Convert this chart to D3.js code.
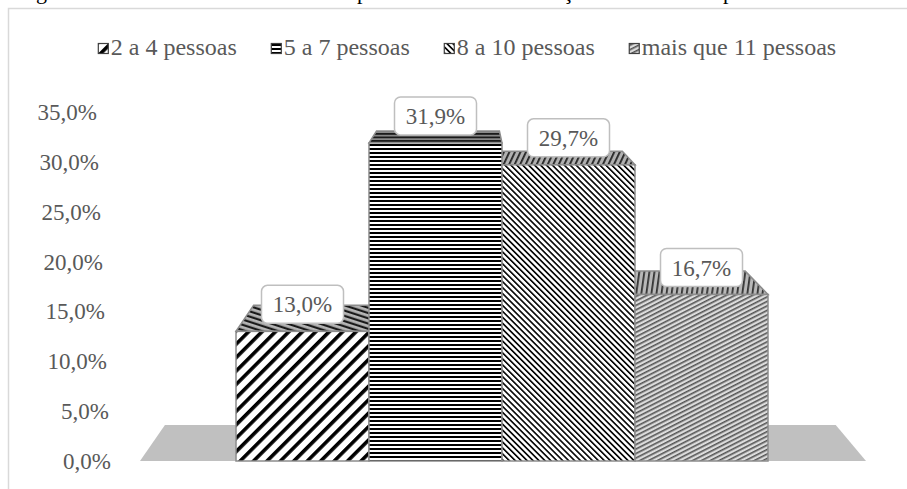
<!DOCTYPE html>
<html>
<head>
<meta charset="utf-8">
<script src="https://cdn.jsdelivr.net/npm/d3@7"></script>
<style>
  body { margin: 0; background: #fff; }
  text { font-family: "Liberation Serif", "Times New Roman", serif; }
</style>
</head>
<body>
<div id="chart"></div>
<script>
// data
let categories = ['2 a 4 pessoas', '5 a 7 pessoas', '8 a 10 pessoas', 'mais que 11 pessoas'];
let values = [13.0, 31.9, 29.7, 16.7];
let yTicks = [0, 5, 10, 15, 20, 25, 30, 35];
let labelText = ['13,0%', '31,9%', '29,7%', '16,7%'];

let width = 907, height = 489;
let serif = '"Liberation Serif", "Times New Roman", serif';

let svg = d3.select('#chart').append('svg')
    .attr('width', width)
    .attr('height', height);

let defs = svg.append('defs');

// hatch patterns, one for each series (front) and a darker one for the tops
function stripes(id, period, lineW, angle, lineColor, bg) {
    let p = defs.append('pattern')
        .attr('id', id)
        .attr('patternUnits', 'userSpaceOnUse')
        .attr('width', period)
        .attr('height', period)
        .attr('patternTransform', `rotate(${angle})`);
    p.append('rect').attr('width', period).attr('height', period).attr('fill', bg);
    p.append('rect').attr('width', lineW).attr('height', period).attr('fill', lineColor);
}
stripes('pat0', 9.5, 3.6, 45, '#000', '#fff');
stripes('pat1', 4, 2, 90, '#000', '#fff');
stripes('pat2', 4.2, 1.6, -45, '#000', '#fff');
stripes('pat3', 4, 1.6, 63, '#555', '#dcdcdc');

stripes('top0', 5, 2.2, -72, '#1a1a1a', '#b5b5b5');
stripes('top1', 3.5, 1.8, 90, '#1a1a1a', '#8a8a8a');
stripes('top2', 5, 1.8, 25, '#222', '#b0b0b0');
stripes('top3', 5, 1.8, 8, '#333', '#b8b8b8');

// chart border (cut off right and bottom)
svg.append('rect')
    .attr('x', 8.5).attr('y', 8.5)
    .attr('width', 1000).attr('height', 1000)
    .attr('fill', 'none')
    .attr('stroke', '#d9d9d9')
    .attr('stroke-width', 1.5);

// title line above, only its descenders show
let titleBits = [['g', 36], ['p', 357], ['ç', 563], ['p', 723]];
svg.selectAll('.title-bit')
    .data(titleBits)
    .enter().append('text')
    .attr('class', 'title-bit')
    .attr('x', d => d[1])
    .attr('y', -1.5)
    .attr('font-family', serif)
    .attr('font-size', 22)
    .attr('fill', '#000')
    .text(d => d[0]);

let y = d3.scaleLinear().domain([0, 35]).range([461, 112]);
let x = d3.scaleBand().domain(categories).range([236, 768]).padding(0);

// perspective: back plane shrinks towards a vanishing point
let vp = [468, -13], shrink = 0.924;
function back(px, py) {
    return [vp[0] + (px - vp[0]) * shrink, vp[1] + (py - vp[1]) * shrink];
}

// floor
let floorL = 140, floorR = 866;
let fb0 = back(floorL, y(0)), fb1 = back(floorR, y(0));
svg.append('path')
    .attr('d', d3.line()([[floorL, y(0)], [floorR, y(0)], fb1, fb0]) + 'Z')
    .attr('fill', '#c0c0c0');

// y axis labels, leaning with the perspective
svg.selectAll('.ytick')
    .data(yTicks)
    .enter().append('text')
    .attr('class', 'ytick')
    .attr('x', d => 111 - d / 35 * 14)
    .attr('y', d => y(d))
    .attr('dy', '0.35em')
    .attr('text-anchor', 'end')
    .attr('font-family', serif)
    .attr('font-size', 23)
    .attr('fill', '#595959')
    .text(d => d3.format('.1f')(d).replace('.', ',') + '%');

// bar tops first, then fronts on top of them
let bars = categories.map((c, i) => ({c: c, v: values[i], i: i}));

function topFace(d) {
    let x0 = x(d.c), x1 = x(d.c) + x.bandwidth(), yt = y(d.v);
    return d3.line()([[x0, yt], [x1, yt], back(x1, yt), back(x0, yt)]) + 'Z';
}

svg.append('g').selectAll('path')
    .data(bars)
    .enter().append('path')
    .attr('d', topFace)
    .attr('fill', d => `url(#top${d.i})`)
    .attr('stroke', '#8c8c8c')
    .attr('stroke-width', 1.5);

svg.append('g').selectAll('rect')
    .data(bars)
    .enter().append('rect')
    .attr('x', d => x(d.c))
    .attr('y', d => y(d.v))
    .attr('width', x.bandwidth())
    .attr('height', d => y(0) - y(d.v))
    .attr('fill', d => `url(#pat${d.i})`)
    .attr('stroke', '#8c8c8c')
    .attr('stroke-width', 1.5);

// data labels
let boxW = 82, boxH = 38;
let lab = svg.append('g').selectAll('g')
    .data(bars)
    .enter().append('g')
    .attr('transform', d => `translate(${x(d.c) + x.bandwidth() / 2}, ${y(d.v) - 8 - boxH / 2})`);
lab.append('rect')
    .attr('x', -boxW / 2).attr('y', -boxH / 2)
    .attr('width', boxW).attr('height', boxH)
    .attr('rx', 6)
    .attr('fill', '#fff')
    .attr('stroke', '#bfbfbf')
    .attr('stroke-width', 1.5);
lab.append('text')
    .attr('text-anchor', 'middle')
    .attr('dy', '0.35em')
    .attr('font-family', serif)
    .attr('font-size', 23)
    .attr('fill', '#595959')
    .text(d => labelText[d.i]);

// legend
let legend = svg.append('g').attr('class', 'legend');
let items = legend.selectAll('g')
    .data(categories)
    .enter().append('g');
items.append('rect')
    .attr('x', 0.5).attr('y', 43.5).attr('width', 10).attr('height', 10)
    .attr('fill', (d, i) => `url(#pat${i})`)
    .attr('stroke', '#404040')
    .attr('stroke-width', 1.2);
items.append('text')
    .attr('x', 13)
    .attr('y', 55)
    .attr('font-family', serif)
    .attr('font-size', 24)
    .attr('fill', '#595959')
    .text(d => d);

let cursor = 0;
items.each(function() {
    let w = d3.select(this).select('text').node().getComputedTextLength() + 13;
    d3.select(this).attr('transform', `translate(${cursor}, 0)`);
    cursor += w + 34;
});
let total = cursor - 34;
legend.attr('transform', `translate(${467 - total / 2}, 0)`);
</script>
</body>
</html>
